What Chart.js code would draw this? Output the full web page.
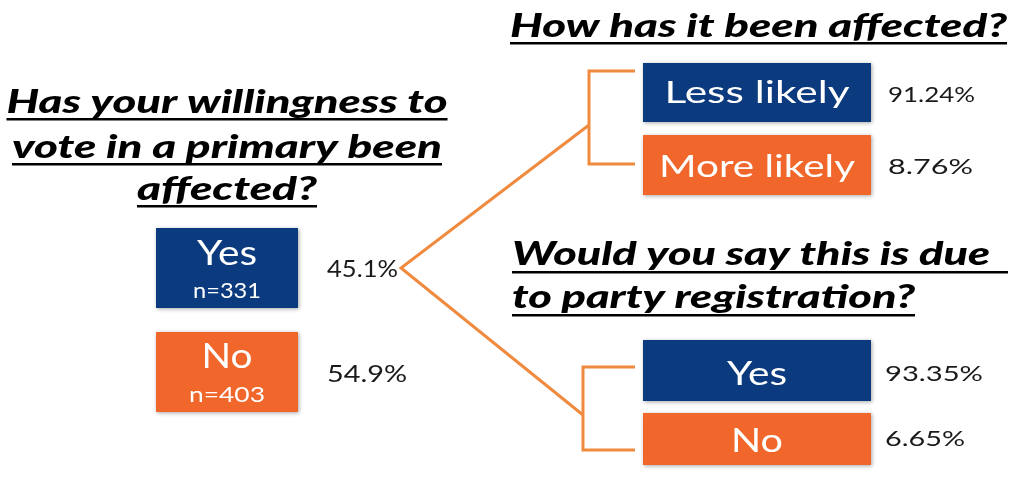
<!DOCTYPE html>
<html>
<head>
<meta charset="utf-8">
<script src="https://cdn.jsdelivr.net/npm/chart.js@4.4.0/dist/chart.umd.min.js"></script>
<style>
  html, body { margin: 0; padding: 0; background: #ffffff; }
  #wrap { width: 1024px; height: 487px; }
</style>
</head>
<body>
<div id="wrap"><canvas id="myChart" width="1024" height="487"></canvas></div>
<script>
// question titles
const leftTitle = ['Has your willingness to', 'vote in a primary been', 'affected?'];
const topTitle = ['How has it been affected?'];
const bottomTitle = ['Would you say this is due', 'to party registration?'];

// answers
const voteLabels = ['Yes', 'No'];
const voteCounts = [331, 403];
const votePct = [45.1, 54.9];

const howLabels = ['Less likely', 'More likely'];
const howPct = [91.24, 8.76];

const partyLabels = ['Yes', 'No'];
const partyPct = [93.35, 6.65];

const NAVY = '#0b3a7e';
const ORANGE = '#f1672b';
const LINE = '#f08a3f';

document.addEventListener('DOMContentLoaded', () => {

    // layout in page units (scales below run 0..1024 / 0..487)
    const groups = [
        { labels: voteLabels, pct: votePct, counts: voteCounts, dec: 1,
          boxes: [[156, 228, 142, 80], [156, 332, 142, 80]],
          labelBase: [265, 368], countBase: [298, 402], countW: [68, 76],
          labelSize: 34, labelW: [60, 51],
          pctX: 327, pctBase: [277, 382], pctSize: 24, pctW: [71, 80] },
        { labels: howLabels, pct: howPct, dec: 2,
          boxes: [[643, 63, 228, 59], [643, 135, 228, 60]],
          labelBase: [103, 177], labelSize: 30, labelW: [185, 196],
          pctX: 888, pctBase: [102, 174], pctSize: 21, pctW: [87, 85] },
        { labels: partyLabels, pct: partyPct, dec: 2,
          boxes: [[643, 340, 228, 61], [643, 413, 228, 52]],
          labelBase: [385, 452], labelSize: 32, labelW: [60, 52],
          pctX: 885, pctBase: [381, 446], pctSize: 21, pctW: [98, 80] }
    ];

    function fitText(ctx, text, x, y, font, align, targetW) {
        ctx.font = font;
        const w = ctx.measureText(text).width;
        const s = targetW ? targetW / w : 1;
        ctx.save();
        ctx.translate(x, y);
        ctx.scale(s, 1);
        ctx.textAlign = align;
        ctx.textBaseline = 'alphabetic';
        ctx.fillText(text, 0, 0);
        ctx.restore();
    }

    const infographic = {
        id: 'infographic',
        afterDraw(chart) {
            const ctx = chart.ctx;
            const sx = v => chart.scales.x.getPixelForValue(v);
            const sy = v => chart.scales.y.getPixelForValue(v);
            const titleFont = 'italic 900 32px Lato, "DejaVu Sans", sans-serif';

            // connector lines
            ctx.save();
            ctx.strokeStyle = LINE;
            ctx.lineWidth = 3;
            ctx.beginPath();
            ctx.moveTo(sx(589), sy(125)); ctx.lineTo(sx(401), sy(268)); ctx.lineTo(sx(583), sy(415));
            ctx.stroke();
            ctx.beginPath();
            ctx.moveTo(sx(635), sy(71)); ctx.lineTo(sx(589), sy(71)); ctx.lineTo(sx(589), sy(164)); ctx.lineTo(sx(635), sy(164));
            ctx.stroke();
            ctx.beginPath();
            ctx.moveTo(sx(635), sy(367)); ctx.lineTo(sx(583), sy(367)); ctx.lineTo(sx(583), sy(450)); ctx.lineTo(sx(635), sy(450));
            ctx.stroke();
            ctx.restore();

            // titles
            ctx.fillStyle = '#000';
            const leftW = [441, 430, 180];
            const leftBase = [113, 158, 200];
            leftTitle.forEach((t, i) => {
                fitText(ctx, t, sx(227), sy(leftBase[i]), titleFont, 'center', leftW[i]);
                ctx.fillRect(sx(227 - leftW[i] / 2), sy(leftBase[i] + 5), leftW[i], 2.5);
            });
            fitText(ctx, topTitle[0], sx(510), sy(37), titleFont, 'left', 497);
            ctx.fillRect(sx(510), sy(42), 497, 2.5);
            const botW = [478, 403];
            const botLine = [496, 403];
            const botBase = [265, 308];
            bottomTitle.forEach((t, i) => {
                fitText(ctx, t, sx(512), sy(botBase[i]), titleFont, 'left', botW[i]);
                ctx.fillRect(sx(512), sy(botBase[i] + 6), botLine[i], 2.5);
            });

            // answer boxes
            groups.forEach(g => {
                g.labels.forEach((lab, i) => {
                    const [bx, by, bw, bh] = g.boxes[i];
                    ctx.save();
                    ctx.shadowColor = 'rgba(0,0,0,0.35)';
                    ctx.shadowBlur = 4;
                    ctx.shadowOffsetX = 1;
                    ctx.shadowOffsetY = 1;
                    ctx.fillStyle = i === 0 ? NAVY : ORANGE;
                    ctx.fillRect(sx(bx), sy(by), bw, bh);
                    ctx.restore();

                    ctx.fillStyle = '#ffffff';
                    const cx = bx + bw / 2;
                    fitText(ctx, lab, sx(cx), sy(g.labelBase[i]),
                        '400 ' + g.labelSize + 'px Lato, sans-serif', 'center', g.labelW[i]);
                    if (g.counts) {
                        fitText(ctx, 'n=' + g.counts[i], sx(cx), sy(g.countBase[i]),
                            '400 21px Lato, sans-serif', 'center', g.countW[i]);
                    }

                    ctx.fillStyle = '#1a1a1a';
                    fitText(ctx, g.pct[i].toFixed(g.dec) + '%', sx(g.pctX), sy(g.pctBase[i]),
                        '400 ' + g.pctSize + 'px Lato, sans-serif', 'left', g.pctW[i]);
                });
            });
        }
    };

    const ctx = document.getElementById('myChart');
    new Chart(ctx, {
        type: 'scatter',
        data: { datasets: [] },
        options: {
            responsive: false,
            animation: false,
            layout: { padding: 0 },
            plugins: { legend: { display: false }, tooltip: { enabled: false } },
            scales: {
                x: { type: 'linear', min: 0, max: 1024, display: false },
                y: { type: 'linear', min: 0, max: 487, reverse: true, display: false }
            }
        },
        plugins: [infographic]
    });
});
</script>
</body>
</html>
